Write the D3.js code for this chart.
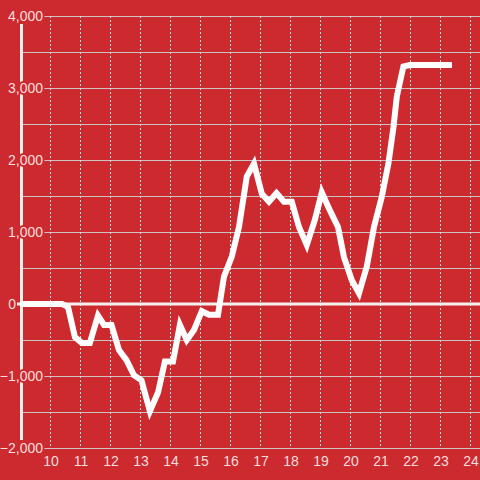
<!DOCTYPE html>
<html>
<head>
<meta charset="utf-8">
<script src="https://cdn.jsdelivr.net/npm/d3@7"></script>
<style>
html,body{margin:0;padding:0;background:#cc2a2f;}
svg{display:block;}
text{font-family:"Liberation Sans",Arial,sans-serif;}
</style>
</head>
<body>
<script>
const times = [9, 10.4, 10.6, 10.83, 11.06, 11.33, 11.6, 11.8, 12.05, 12.3, 12.55, 12.8, 13.05, 13.33, 13.6, 13.83, 14.1, 14.33, 14.56, 14.8, 15.06, 15.3, 15.6, 15.8, 16.06, 16.3, 16.56, 16.8, 17.06, 17.3, 17.55, 17.8, 18.06, 18.3, 18.56, 18.83, 19.06, 19.33, 19.6, 19.8, 20.06, 20.3, 20.56, 20.8, 21.06, 21.28, 21.45, 21.56, 21.78, 22.0, 23.4];
const values = [0, 0, -40, -460, -540, -540, -160, -290, -290, -640, -780, -990, -1060, -1490, -1230, -800, -800, -290, -500, -360, -100, -150, -150, 380, 660, 1070, 1770, 1950, 1530, 1420, 1540, 1420, 1420, 1070, 820, 1170, 1550, 1300, 1070, 650, 330, 150, 520, 1070, 1490, 1950, 2460, 2880, 3300, 3320, 3320];
const xTicks = [10, 11, 12, 13, 14, 15, 16, 17, 18, 19, 20, 21, 22, 23, 24];
const yGrid = [-2000, -1500, -1000, -500, 0, 500, 1000, 1500, 2000, 2500, 3000, 3500, 4000];
const yLabels = [-2000, -1000, 0, 1000, 2000, 3000, 4000];

const W = 480, H = 480, bg = "#cc2a2f";
const x = d3.scaleLinear().domain([9, 24]).range([20, 470]);
const y = d3.scaleLinear().domain([-2000, 4000]).range([448, 16]);

const svg = d3.select("body").append("svg").attr("width", W).attr("height", H);
svg.append("rect").attr("width", W).attr("height", H).attr("fill", bg);

// horizontal grid
svg.append("g").selectAll("line").data(yGrid.filter(d => d !== 0)).join("line")
  .attr("x1", 20).attr("x2", W)
  .attr("y1", d => Math.round(y(d)) + 0.5).attr("y2", d => Math.round(y(d)) + 0.5)
  .attr("stroke", "#c9c3c3").attr("stroke-width", 1);

// vertical dashed grid
svg.append("g").selectAll("line").data(xTicks).join("line")
  .attr("x1", d => Math.round(x(d)) + 0.5).attr("x2", d => Math.round(x(d)) + 0.5)
  .attr("y1", y(4000)).attr("y2", y(-2000))
  .attr("stroke", "#e8dede").attr("stroke-width", 1).attr("stroke-dasharray", "2,2");

// axis bar
svg.append("line").attr("x1", 21.5).attr("x2", 21.5).attr("y1", 24).attr("y2", 440)
  .attr("stroke", "#f3efef").attr("stroke-width", 3);

// zero line
svg.append("line").attr("x1", 17).attr("x2", W).attr("y1", y(0)).attr("y2", y(0))
  .attr("stroke", "#f3efef").attr("stroke-width", 3);

// y labels with halo
svg.append("g").selectAll("text").data(yLabels).join("text")
  .attr("x", d => d === 0 ? 16 : 43).attr("y", d => y(d)).attr("dy", "0.36em")
  .attr("text-anchor", "end").attr("font-size", 14)
  .attr("fill", "#f6dede").attr("stroke", bg).attr("stroke-width", d => d === 0 ? 0 : 4)
  .attr("paint-order", "stroke")
  .text(d => d3.format(",")(d));

// x labels
svg.append("g").selectAll("text").data(xTicks).join("text")
  .attr("x", d => x(d) + 1).attr("y", 466)
  .attr("text-anchor", "middle").attr("font-size", 14)
  .attr("fill", "#f6dede")
  .text(d => d);

// data line
const pts = times.map((t, i) => [t, values[i]]);
svg.append("path").datum(pts)
  .attr("d", d3.line().x(d => x(d[0])).y(d => y(d[1])))
  .attr("fill", "none").attr("stroke", "#ffffff").attr("stroke-width", 6)
  .attr("stroke-linejoin", "miter").attr("stroke-linecap", "butt");
</script>
</body>
</html>
